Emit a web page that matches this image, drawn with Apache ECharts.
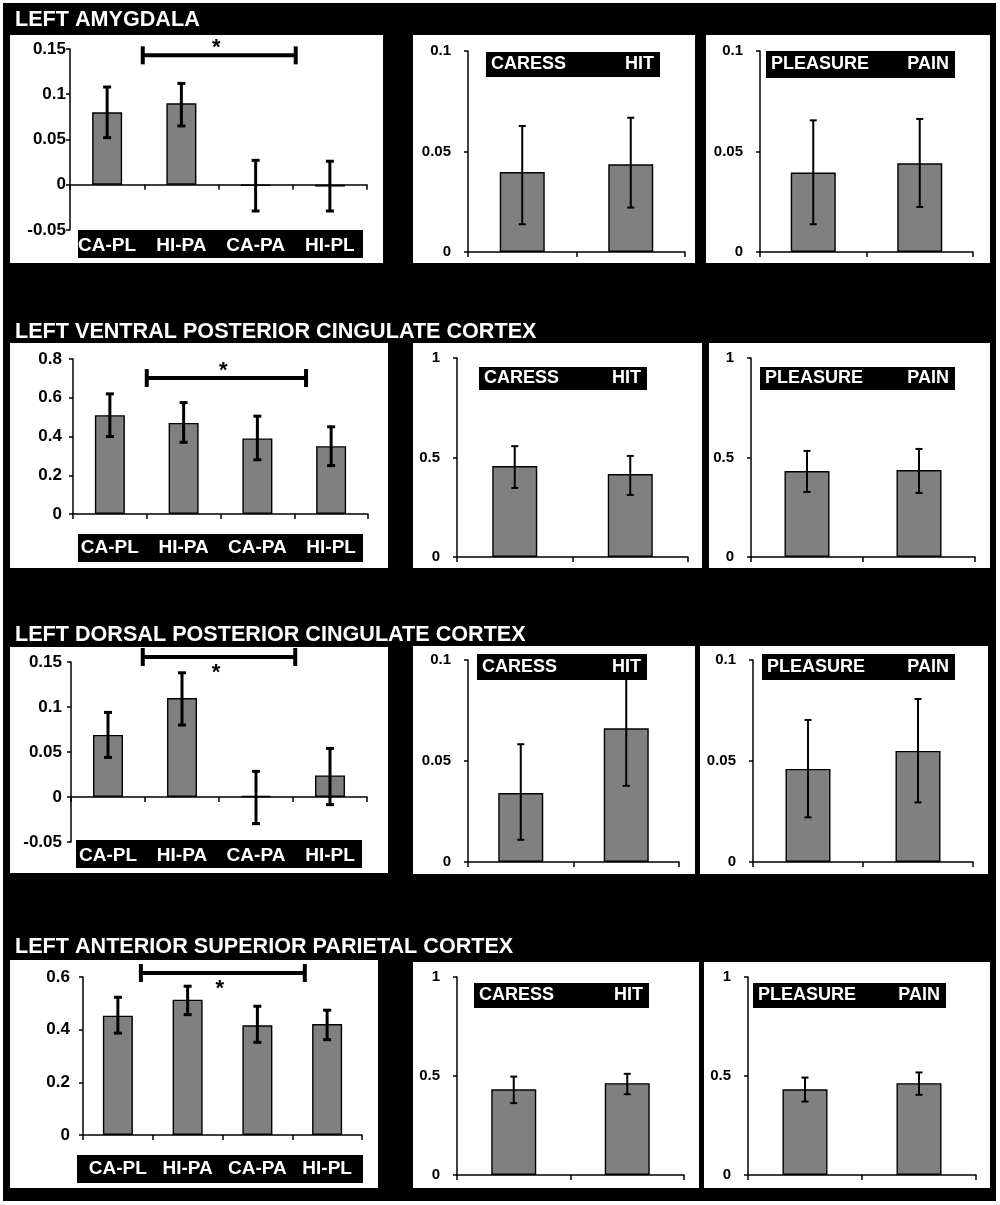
<!DOCTYPE html>
<html><head><meta charset="utf-8">
<script src="https://cdn.jsdelivr.net/npm/echarts@6/dist/echarts.min.js"></script>
<style>html,body{margin:0;padding:0;background:#fff}#c{width:1000px;height:1205px}</style>
</head><body><div id="c"></div><script>
// ---------- DATA ----------
const regions = ['LEFT AMYGDALA', 'LEFT VENTRAL POSTERIOR CINGULATE CORTEX', 'LEFT DORSAL POSTERIOR CINGULATE CORTEX', 'LEFT ANTERIOR SUPERIOR PARIETAL CORTEX'];
const conditions = ['CA-PL', 'HI-PA', 'CA-PA', 'HI-PL'];
const touchTypes = ['CARESS', 'HIT'];
const feelTypes = ['PLEASURE', 'PAIN'];

// Left amygdala
const amyCondMean = [0.080, 0.090, -0.001, -0.002];
const amyCondLo   = [0.052, 0.065, -0.029, -0.029];
const amyCondHi   = [0.108, 0.112, 0.027, 0.026];
const amyTouchMean = [0.0398, 0.0436];
const amyTouchLo   = [0.0138, 0.0221];
const amyTouchHi   = [0.0627, 0.0668];
const amyFeelMean = [0.0395, 0.0441];
const amyFeelLo   = [0.0138, 0.0224];
const amyFeelHi   = [0.0655, 0.0662];

// Left ventral posterior cingulate cortex
const vpccCondMean = [0.51, 0.47, 0.39, 0.35];
const vpccCondLo   = [0.40, 0.37, 0.28, 0.25];
const vpccCondHi   = [0.62, 0.575, 0.505, 0.45];
const vpccTouchMean = [0.457, 0.417];
const vpccTouchLo   = [0.347, 0.312];
const vpccTouchHi   = [0.557, 0.508];
const vpccFeelMean = [0.432, 0.437];
const vpccFeelLo   = [0.327, 0.322];
const vpccFeelHi   = [0.533, 0.543];

// Left dorsal posterior cingulate cortex
const dpccCondMean = [0.069, 0.110, 0.001, 0.024];
const dpccCondLo   = [0.044, 0.080, -0.0296, -0.0085];
const dpccCondHi   = [0.094, 0.138, 0.0285, 0.054];
const dpccTouchMean = [0.0341, 0.0662];
const dpccTouchLo   = [0.011, 0.0377];
const dpccTouchHi   = [0.0583, 0.095];
const dpccFeelMean = [0.0461, 0.055];
const dpccFeelLo   = [0.0221, 0.0295];
const dpccFeelHi   = [0.0703, 0.0807];

// Left anterior superior parietal cortex
const aspcCondMean = [0.453, 0.514, 0.4165, 0.4216];
const aspcCondLo   = [0.387, 0.457, 0.352, 0.362];
const aspcCondHi   = [0.523, 0.565, 0.489, 0.474];
const aspcTouchMean = [0.433, 0.464];
const aspcTouchLo   = [0.363, 0.408];
const aspcTouchHi   = [0.497, 0.511];
const aspcFeelMean = [0.433, 0.464];
const aspcFeelLo   = [0.371, 0.405];
const aspcFeelHi   = [0.492, 0.518];

// Axis ranges
const condAxisMin = [-0.05, 0, -0.05, 0];
const condAxisMax = [0.15, 0.8, 0.15, 0.6];
const condAxisStep = [0.05, 0.2, 0.05, 0.2];
const pairAxisMax = [0.1, 1, 0.1, 1];
const pairAxisStep = [0.05, 0.5, 0.05, 0.5];

// Significance brackets (in category-band units from centre of first category, and value level)
const sigFrom = [0.48, 0.5, 0.47, 0.33];
const sigTo = [2.54, 2.66, 2.53, 2.68];
const sigLevel = [0.143, 0.702, 0.1556, 0.615];
const sigMark = '*';

// ---------- LAYOUT ----------
const gridBoxes = [
  [{left:70,top:49,width:297,height:181},{left:468,top:51,width:217,height:201},{left:760,top:51,width:213,height:201}],
  [{left:73,top:359,width:295,height:155},{left:457,top:358,width:231,height:199},{left:751,top:358,width:224,height:199}],
  [{left:71,top:662,width:296,height:180},{left:468,top:660,width:211,height:202},{left:753,top:660,width:220,height:202}],
  [{left:83,top:977,width:279,height:158},{left:457,top:977,width:227,height:198},{left:748,top:977,width:228,height:198}]
];
const panelBoxes = [
  [[10,35,373,228],[413,35,282,228],[706,35,284,228]],
  [[10,343,378,225],[413,343,289,225],[709,343,281,225]],
  [[10,647,378,226],[413,646,282,228],[700,646,288,228]],
  [[10,960,368,228],[413,962,286,226],[704,962,286,226]]
];
const titleY = [20, 332, 635, 947];
const condBoxes = [[78,230,285,28],[78,534,285,28],[76,840,286,28],[77,1155,286,28]];
const condLabelMargin = [16, 34, 14, 34];
const condYLabelMargin = [4, 11, 9, 13];
const pairBoxes = [
  [[486,52,174,25],[766,51,189,27]],
  [[479,367,168,23],[760,367,195,23]],
  [[477,654,170,26],[762,654,193,26]],
  [[474,983,175,25],[753,983,193,25]]
];
const starAbove = [true, true, false, false];

const FONT = '"Liberation Sans", Arial, sans-serif';

const rowsData = [
  [[amyCondMean, amyCondLo, amyCondHi], [amyTouchMean, amyTouchLo, amyTouchHi], [amyFeelMean, amyFeelLo, amyFeelHi]],
  [[vpccCondMean, vpccCondLo, vpccCondHi], [vpccTouchMean, vpccTouchLo, vpccTouchHi], [vpccFeelMean, vpccFeelLo, vpccFeelHi]],
  [[dpccCondMean, dpccCondLo, dpccCondHi], [dpccTouchMean, dpccTouchLo, dpccTouchHi], [dpccFeelMean, dpccFeelLo, dpccFeelHi]],
  [[aspcCondMean, aspcCondLo, aspcCondHi], [aspcTouchMean, aspcTouchLo, aspcTouchHi], [aspcFeelMean, aspcFeelLo, aspcFeelHi]]
];

function errRender(capHalf, lw) {
  return function (params, api) {
    const i = api.value(0);
    const lo = api.coord([i, api.value(1)]);
    const hi = api.coord([i, api.value(2)]);
    const x = lo[0];
    const st = {stroke:'#000', lineWidth:lw};
    return {type:'group', children:[
      {type:'line', shape:{x1:x, y1:lo[1], x2:x, y2:hi[1]}, style:st},
      {type:'line', shape:{x1:x-capHalf, y1:lo[1], x2:x+capHalf, y2:lo[1]}, style:st},
      {type:'line', shape:{x1:x-capHalf, y1:hi[1], x2:x+capHalf, y2:hi[1]}, style:st}
    ]};
  };
}

function bracketRender(from, to, above) {
  return function (params, api) {
    const bw = api.size([1, 0])[0];
    const c0 = api.coord([0, api.value(1)]);
    const x1 = c0[0] + from * bw, x2 = c0[0] + to * bw, y = c0[1];
    const st = {stroke:'#000', lineWidth:4};
    return {type:'group', children:[
      {type:'line', shape:{x1:x1, y1:y, x2:x2, y2:y}, style:st},
      {type:'line', shape:{x1:x1, y1:y-9, x2:x1, y2:y+9}, style:st},
      {type:'line', shape:{x1:x2, y1:y-9, x2:x2, y2:y+9}, style:st},
      {type:'text', style:{text:sigMark, x:(x1+x2)/2 - 3, y: above ? y+4 : y+27, align:'center', verticalAlign:'bottom',
        textAlign:'center', textVerticalAlign:'bottom', font:'bold 22px ' + FONT, fill:'#000'}}
    ]};
  };
}

const grids = [], xAxes = [], yAxes = [], series = [], graphics = [];
graphics.push({type:'rect', shape:{x:3, y:3, width:993, height:1198}, style:{fill:'#000'}, z:0, silent:true});

for (let r = 0; r < 4; r++) {
  graphics.push({type:'text', x:15, y:titleY[r], z:3, silent:true,
    style:{text:regions[r], font:'bold 21.6px ' + FONT, fill:'#fff', verticalAlign:'middle', textVerticalAlign:'middle'}});
  for (let k = 0; k < 3; k++) {
    const p = r * 3 + k;
    const pb = panelBoxes[r][k];
    graphics.push({type:'rect', shape:{x:pb[0], y:pb[1], width:pb[2], height:pb[3]}, style:{fill:'#fff'}, z:1, silent:true});
    grids.push(Object.assign({}, gridBoxes[r][k]));
    const cats = k === 0 ? conditions : (k === 1 ? touchTypes : feelTypes);
    const [mean, lo, hi] = rowsData[r][k];
    const isCond = k === 0;
    xAxes.push({
      type:'category', gridIndex:p, data:cats, z:4,
      axisLine:{onZero:true, lineStyle:{color:'#000', width:1.5}},
      axisTick:{show:true, inside:false, length:5, lineStyle:{color:'#000', width:1.5}},
      axisLabel:{show:isCond, color:'#fff', fontWeight:'bold', fontSize:19, fontFamily:FONT,
        margin: isCond ? condLabelMargin[r] : 8, verticalAlign:'middle', interval:0},
      splitLine:{show:false}
    });
    yAxes.push({
      type:'value', gridIndex:p, z:4,
      min: isCond ? condAxisMin[r] : 0,
      max: isCond ? condAxisMax[r] : pairAxisMax[r],
      interval: isCond ? condAxisStep[r] : pairAxisStep[r],
      axisLine:{show:true, lineStyle:{color:'#000', width:1.5}},
      axisTick:{show:true, length:4, lineStyle:{color:'#000', width:1.5}},
      axisLabel:{color:'#000', fontWeight:'bold', fontSize: isCond ? 17 : 15, fontFamily:FONT,
        margin: isCond ? condYLabelMargin[r] : 17},
      splitLine:{show:false}
    });
    series.push({
      type:'bar', xAxisIndex:p, yAxisIndex:p, data:mean, barWidth: isCond ? 30 : 45, z:5, silent:true,
      itemStyle:{color:'#808080', borderColor:'#000', borderWidth:1.4}
    });
    series.push({
      type:'custom', xAxisIndex:p, yAxisIndex:p, z:6, silent:true,
      data: cats.map((c, i) => [i, lo[i], hi[i]]),
      renderItem: errRender(isCond ? 4 : 3.5, isCond ? 3 : 2)
    });
    if (isCond) {
      graphics.push({type:'rect', shape:{x:condBoxes[r][0], y:condBoxes[r][1], width:condBoxes[r][2], height:condBoxes[r][3]},
        style:{fill:'#000'}, z:2, silent:true});
      series.push({
        type:'custom', xAxisIndex:p, yAxisIndex:p, z:6, silent:true, clip:false,
        data:[[0, sigLevel[r]]],
        renderItem: bracketRender(sigFrom[r], sigTo[r], starAbove[r])
      });
    } else {
      const b = pairBoxes[r][k - 1];
      graphics.push({type:'rect', shape:{x:b[0], y:b[1], width:b[2], height:b[3]}, style:{fill:'#000'}, z:10, silent:true});
      graphics.push({type:'text', x:b[0] + 5, y:b[1] + b[3] / 2, z:11, silent:true,
        style:{text:cats[0], font:'bold 18px ' + FONT, fill:'#fff', align:'left', textAlign:'left', verticalAlign:'middle', textVerticalAlign:'middle'}});
      graphics.push({type:'text', x:b[0] + b[2] - 6, y:b[1] + b[3] / 2, z:11, silent:true,
        style:{text:cats[1], font:'bold 18px ' + FONT, fill:'#fff', align:'right', textAlign:'right', verticalAlign:'middle', textVerticalAlign:'middle'}});
    }
  }
}

const chart = echarts.init(document.getElementById('c'), null, {renderer:'canvas'});
chart.setOption({
  backgroundColor:'#fff',
  animation:false,
  grid:grids, xAxis:xAxes, yAxis:yAxes, series:series,
  graphic:{elements:graphics}
});
</script></body></html>
